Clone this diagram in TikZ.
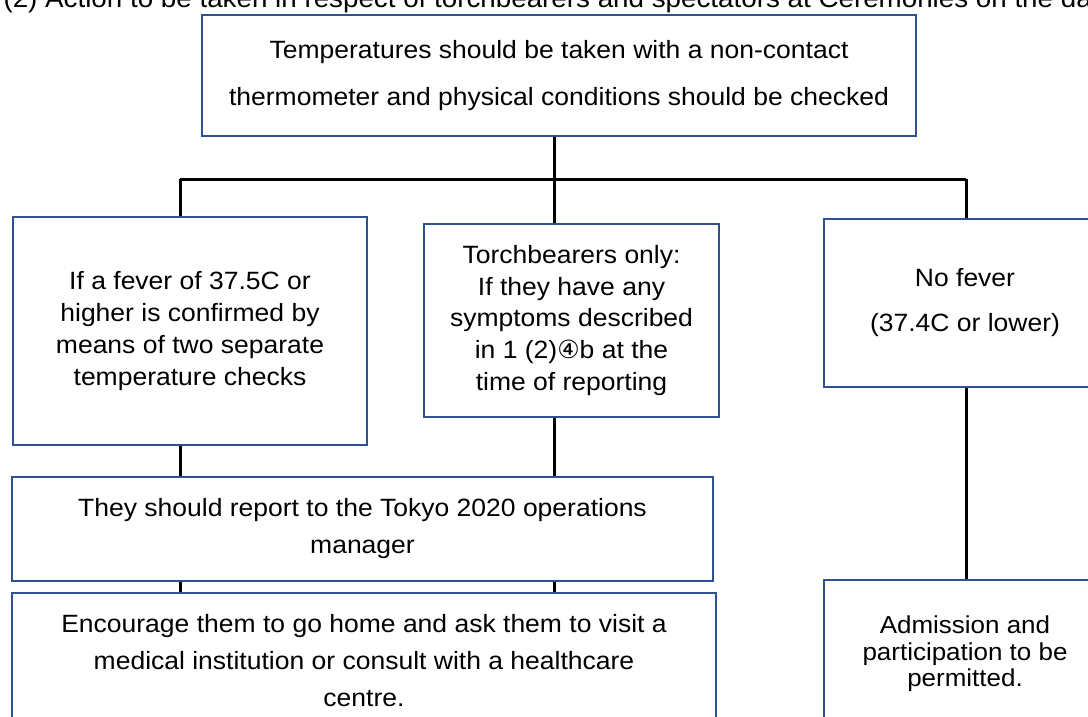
\documentclass[tikz,border=0pt]{standalone}
\usepackage{fontspec}
\usepackage{xcolor}
\setmainfont{Liberation Sans}[FakeStretch=1.06]
\newfontfamily\circfont{DejaVu Sans}
\definecolor{boxblue}{RGB}{47,82,143}

\begin{document}
\begin{tikzpicture}[x=1pt,y=-1pt,
    box/.style={rectangle,draw=boxblue,line width=2.2pt,inner sep=0pt,align=center},
    link/.style={line width=3pt}]
                \useasboundingbox (0,0) rectangle (1088,716);
                \clip (0,0) rectangle (1088,716);

                \node (title) at (0,7) [anchor=base west,font={\fontsize{26.2}{30}\selectfont}] {(2) Action to be taken in respect of torchbearers and spectators at Ceremonies on the day};

                \node (temp) at (559,75.5) [box,minimum width=714pt,minimum height=121pt,font={\fontsize{25}{47}\selectfont}] {Temperatures should be taken with a non-contact\\thermometer and physical conditions should be checked};
                \node (fever) at (190,331) [box,minimum width=354pt,minimum height=228pt,font={\fontsize{25}{31.7}\selectfont}] {If a fever of 37.5C or\\higher is confirmed by\\means of two separate\\temperature checks};
                \node (torch) at (571.5,320.5) [box,minimum width=295pt,minimum height=193pt,font={\fontsize{25}{31.7}\selectfont}] {Torchbearers only:\\If they have any\\symptoms described\\in 1 (2){\circfont ④}b at the\\time of reporting};
                \node (nofever) at (965,303) [box,minimum width=282pt,minimum height=168pt,font={\fontsize{25}{45}\selectfont}] {No fever\\(37.4C or lower)};
                \node (report) at (362.5,529) [box,minimum width=701pt,minimum height=104pt,font={\fontsize{25}{37}\selectfont}] {They should report to the Tokyo 2020 operations\\manager};
                \node (home) at (364,660.5) [box,minimum width=704pt,minimum height=135pt,font={\fontsize{25}{37}\selectfont}] {Encourage them to go home and ask them to visit a\\medical institution or consult with a healthcare\\centre.};
                \node (admit) at (965,654) [box,minimum width=282pt,minimum height=148pt,font={\fontsize{24.5}{26.5}\selectfont}] {Admission and\\participation to be\\permitted.};

                \coordinate (busL) at (180,179);
                \coordinate (busM) at (554,179);
                \coordinate (busR) at (966,179);

                \draw[link] (busL) -- (busR);
                \draw[link] (temp.south -| busM) -- (busM);
                \draw[link] (busL) -- (busL |- fever.north) (busM) -- (busM |- torch.north)
                (busR) -- (busR |- nofever.north);
                \draw[link] (fever.south -| busL) -- (busL |- report.north)
                (torch.south -| busM) -- (busM |- report.north);
                \draw[link] (report.south -| busL) -- (busL |- home.north)
                (report.south -| busM) -- (busM |- home.north);
                \draw[link] (nofever.south -| busR) -- (busR |- admit.north);

            \end{tikzpicture}
\end{document}
